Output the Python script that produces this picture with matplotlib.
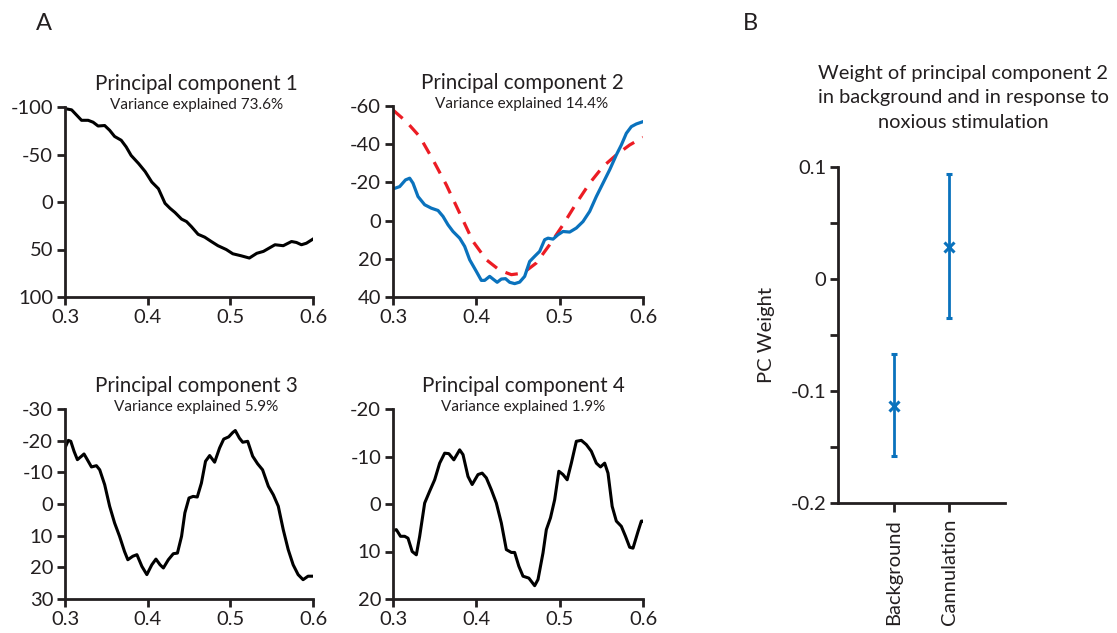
import matplotlib
matplotlib.use("Agg")
import matplotlib.pyplot as plt
from matplotlib.ticker import MultipleLocator

plt.rcParams['font.family'] = ['Lato', 'DejaVu Sans']

# ---------------- data ----------------
pc1_x = [0.300, 0.308, 0.320, 0.328, 0.334, 0.340, 0.348, 0.354, 0.360, 0.368,
         0.374, 0.380, 0.389, 0.397, 0.405, 0.413, 0.421, 0.427, 0.433, 0.441,
         0.447, 0.453, 0.461, 0.469, 0.477, 0.485, 0.495, 0.503, 0.513, 0.523,
         0.532, 0.540, 0.546, 0.554, 0.564, 0.574, 0.580, 0.586, 0.592, 0.600]
pc1_y = [-98.3, -97, -86, -86, -84, -80, -80.5, -75.5, -69, -65,
         -58, -49, -40.5, -32, -21, -14, 1.4, 6.6, 11, 18,
         20.6, 26, 34, 37, 41.6, 46, 50, 54.5, 56.6, 59,
         54, 52, 49, 45, 46, 41.6, 42.6, 45, 43.4, 39]

pc2_x = [0.300, 0.308, 0.315, 0.320, 0.324, 0.330, 0.338, 0.346, 0.354, 0.360,
         0.366, 0.372, 0.380, 0.386, 0.392, 0.400, 0.406, 0.410, 0.416, 0.420,
         0.425, 0.430, 0.435, 0.440, 0.446, 0.452, 0.458, 0.464, 0.470, 0.476,
         0.482, 0.486, 0.492, 0.498, 0.504, 0.512, 0.520, 0.528, 0.536, 0.544,
         0.552, 0.560, 0.568, 0.574, 0.580, 0.586, 0.592, 0.600]
pc2_y = [-16.6, -17.8, -21.3, -22.2, -19.6, -12.6, -8.3, -6.5, -5.3, -2.2,
         2.2, 5.7, 9.2, 13.5, 20.5, 26.6, 31.3, 31.3, 29.2, 30.6,
         32.3, 30.6, 30.4, 32.3, 33, 32.2, 29.2, 21.4, 18.7, 16.1,
         10, 9.2, 9.7, 7.4, 5.7, 6, 3.9, 0.5, -4.8, -12.6,
         -19.6, -26.6, -34.4, -39.6, -45.7, -49.2, -50.6, -51.8]

pc2_ref_x = [0.300, 0.316, 0.332, 0.348, 0.364, 0.380, 0.396, 0.412, 0.428, 0.442,
             0.456, 0.472, 0.488, 0.504, 0.520, 0.536, 0.552, 0.568, 0.584, 0.600]
pc2_ref_y = [-57.9, -51.8, -44, -31.8, -18.7, -3.9, 10.9, 20.5, 26, 28.3,
             27.5, 22.2, 12.6, 2.2, -9.1, -19.6, -28.3, -34.4, -39.6, -43.6]

pc3_x = [0.300, 0.304, 0.307, 0.311, 0.315, 0.320, 0.323, 0.327, 0.332, 0.338,
         0.342, 0.348, 0.354, 0.360, 0.366, 0.372, 0.376, 0.382, 0.387, 0.393,
         0.399, 0.405, 0.410, 0.415, 0.419, 0.425, 0.431, 0.436, 0.441, 0.445,
         0.450, 0.455, 0.460, 0.465, 0.470, 0.475, 0.481, 0.487, 0.492, 0.498,
         0.503, 0.506, 0.511, 0.515, 0.521, 0.527, 0.533, 0.539, 0.546, 0.552,
         0.558, 0.564, 0.570, 0.576, 0.582, 0.588, 0.594, 0.600]
pc3_y = [-17.7, -20.1, -19.8, -16.6, -14, -15.1, -15.8, -14, -11.7, -12.1,
         -10.8, -6.1, 0.7, 6, 10.2, 15, 17.6, 16.5, 16, 19.7,
         22.3, 19.2, 17.4, 19.2, 20.2, 17.6, 15.7, 15.5, 10.2, 2.8,
         -1.9, -2.4, -2.2, -6.6, -13.5, -15.3, -13.2, -17.7, -20.5, -21.2,
         -22.6, -23.2, -20.8, -19.5, -19.8, -15.1, -12.7, -10.8, -5.6, -2.9,
         0.7, 8.1, 14.4, 19.2, 22.3, 23.9, 22.8, 22.8]

pc4_x = [0.300, 0.304, 0.309, 0.314, 0.318, 0.323, 0.328, 0.332, 0.338, 0.344,
         0.350, 0.356, 0.362, 0.367, 0.373, 0.380, 0.384, 0.390, 0.395, 0.402,
         0.407, 0.412, 0.418, 0.424, 0.430, 0.436, 0.442, 0.446, 0.451, 0.456,
         0.463, 0.470, 0.474, 0.480, 0.484, 0.489, 0.494, 0.499, 0.504, 0.509,
         0.514, 0.520, 0.526, 0.532, 0.538, 0.544, 0.549, 0.554, 0.558, 0.563,
         0.568, 0.574, 0.579, 0.584, 0.588, 0.594, 0.598, 0.600]
pc4_y = [5.6, 5.4, 6.8, 6.8, 7.2, 10, 10.7, 6.8, -0.2, -2.7,
         -5.1, -8.6, -10.7, -10.6, -9.3, -11.4, -10.4, -5.8, -4.1, -6.2,
         -6.5, -5.5, -3, -0.2, 4, 9.6, 10.2, 10.2, 13.1, 15.2,
         15.6, 17.2, 15.9, 10.3, 5.4, 2.9, -0.9, -6.9, -6.2, -5.1,
         -8.6, -13.2, -13.4, -12.5, -11.1, -8.6, -7.8, -8.6, -6.5, 0.5,
         3.6, 4.7, 6.8, 9.1, 9.3, 5.8, 3.6, 3.6]

pc_titles = ["Principal component 1", "Principal component 2",
             "Principal component 3", "Principal component 4"]
pc_variance = ["Variance explained 73.6%", "Variance explained 14.4%",
               "Variance explained 5.9%", "Variance explained 1.9%"]
pc_ylims = [(-100, 100), (-60, 40), (-30, 30), (-20, 20)]
pc_ysteps = [50, 20, 10, 10]

b_categories = ["Background", "Cannulation"]
b_means = [-0.113, 0.029]
b_lower = [-0.158, -0.035]
b_upper = [-0.067, 0.094]

# ---------------- style ----------------
W, H = 1117, 633
fig = plt.figure(figsize=(W / 100, H / 100), dpi=100)
BLUE = '#0a72bd'
RED = '#ec1c24'
TXT = '#231f20'
TICK_FS = 14.5

def frac(l, t, r, b):
    return [l / W, 1 - b / H, (r - l) / W, (b - t) / H]

boxes = [frac(65, 107, 313, 297), frac(393, 106, 643, 297),
         frac(65, 409, 313, 599), frac(393, 409, 643, 599)]
title_x = [0.53, 0.516, 0.53, 0.52]

def style_axis(ax):
    for s in ['top', 'right']:
        ax.spines[s].set_visible(False)
    for s in ['left', 'bottom']:
        ax.spines[s].set_linewidth(2.0)
        ax.spines[s].set_color(TXT)
    ax.tick_params(direction='out', length=5.5, width=2.0, labelsize=TICK_FS,
                   colors=TXT, pad=3)

series = [(pc1_x, pc1_y), (pc2_x, pc2_y), (pc3_x, pc3_y), (pc4_x, pc4_y)]
for i in range(4):
    ax = fig.add_axes(boxes[i])
    style_axis(ax)
    xs, ys = series[i]
    if i == 1:
        ax.plot(pc2_ref_x, pc2_ref_y, color=RED, lw=2.3, ls=(0, (4, 3)))
        ax.plot(xs, ys, color=BLUE, lw=2.3)
    else:
        ax.plot(xs, ys, color='black', lw=2.2)
    ax.set_xlim(0.3, 0.6)
    ax.set_xticks([0.3, 0.4, 0.5, 0.6])
    ax.set_xticklabels(['0.3', '0.4', '0.5', '0.6'])
    lo, hi = pc_ylims[i]
    ax.set_ylim(hi, lo)
    ax.yaxis.set_major_locator(MultipleLocator(pc_ysteps[i]))
    ax.set_yticklabels([f"{int(v)}" for v in ax.get_yticks()])
    ax.text(title_x[i], 1.12, pc_titles[i], transform=ax.transAxes,
            ha='center', va='center', fontsize=14.8, color=TXT)
    ax.text(title_x[i], 1.01, pc_variance[i], transform=ax.transAxes,
            ha='center', va='center', fontsize=11, color=TXT)

# ---------------- panel B ----------------
axb = fig.add_axes(frac(838, 167, 1005, 503))
style_axis(axb)
pos = list(range(1, len(b_categories) + 1))
yerr = [[m - l for m, l in zip(b_means, b_lower)],
        [u - m for m, u in zip(b_means, b_upper)]]
axb.errorbar(pos, b_means, yerr=yerr, fmt='x', color=BLUE, ecolor=BLUE,
             elinewidth=2.0, capsize=2.5, capthick=2.0, markersize=7, mew=2.2)
axb.set_xlim(0, 3)
axb.set_ylim(-0.2, 0.1)
axb.set_xticks(pos)
axb.set_xticklabels(b_categories, rotation=90, fontsize=TICK_FS)
axb.set_yticks([-0.2, -0.1, 0, 0.1])
axb.set_yticklabels(['-0.2', '-0.1', '0', '0.1'])
axb.set_yticks([-0.15, -0.05, 0.05], minor=True)
axb.tick_params(which='minor', direction='out', length=5.5, width=2.0, colors=TXT)
axb.tick_params(axis='x', length=6.5, pad=5)
axb.set_ylabel("PC Weight", fontsize=TICK_FS, color=TXT, labelpad=11)
fig.text(963 / W, 1 - 98 / H,
         "Weight of principal component 2\nin background and in response to\nnoxious stimulation",
         ha='center', va='center', fontsize=14.4, color=TXT, linespacing=1.5)

fig.text(43.5 / W, 1 - 24 / H, "A", ha='center', va='center', fontsize=17, color=TXT)
fig.text(750 / W, 1 - 23 / H, "B", ha='center', va='center', fontsize=17, color=TXT)

fig.savefig("out.png", dpi=100)
